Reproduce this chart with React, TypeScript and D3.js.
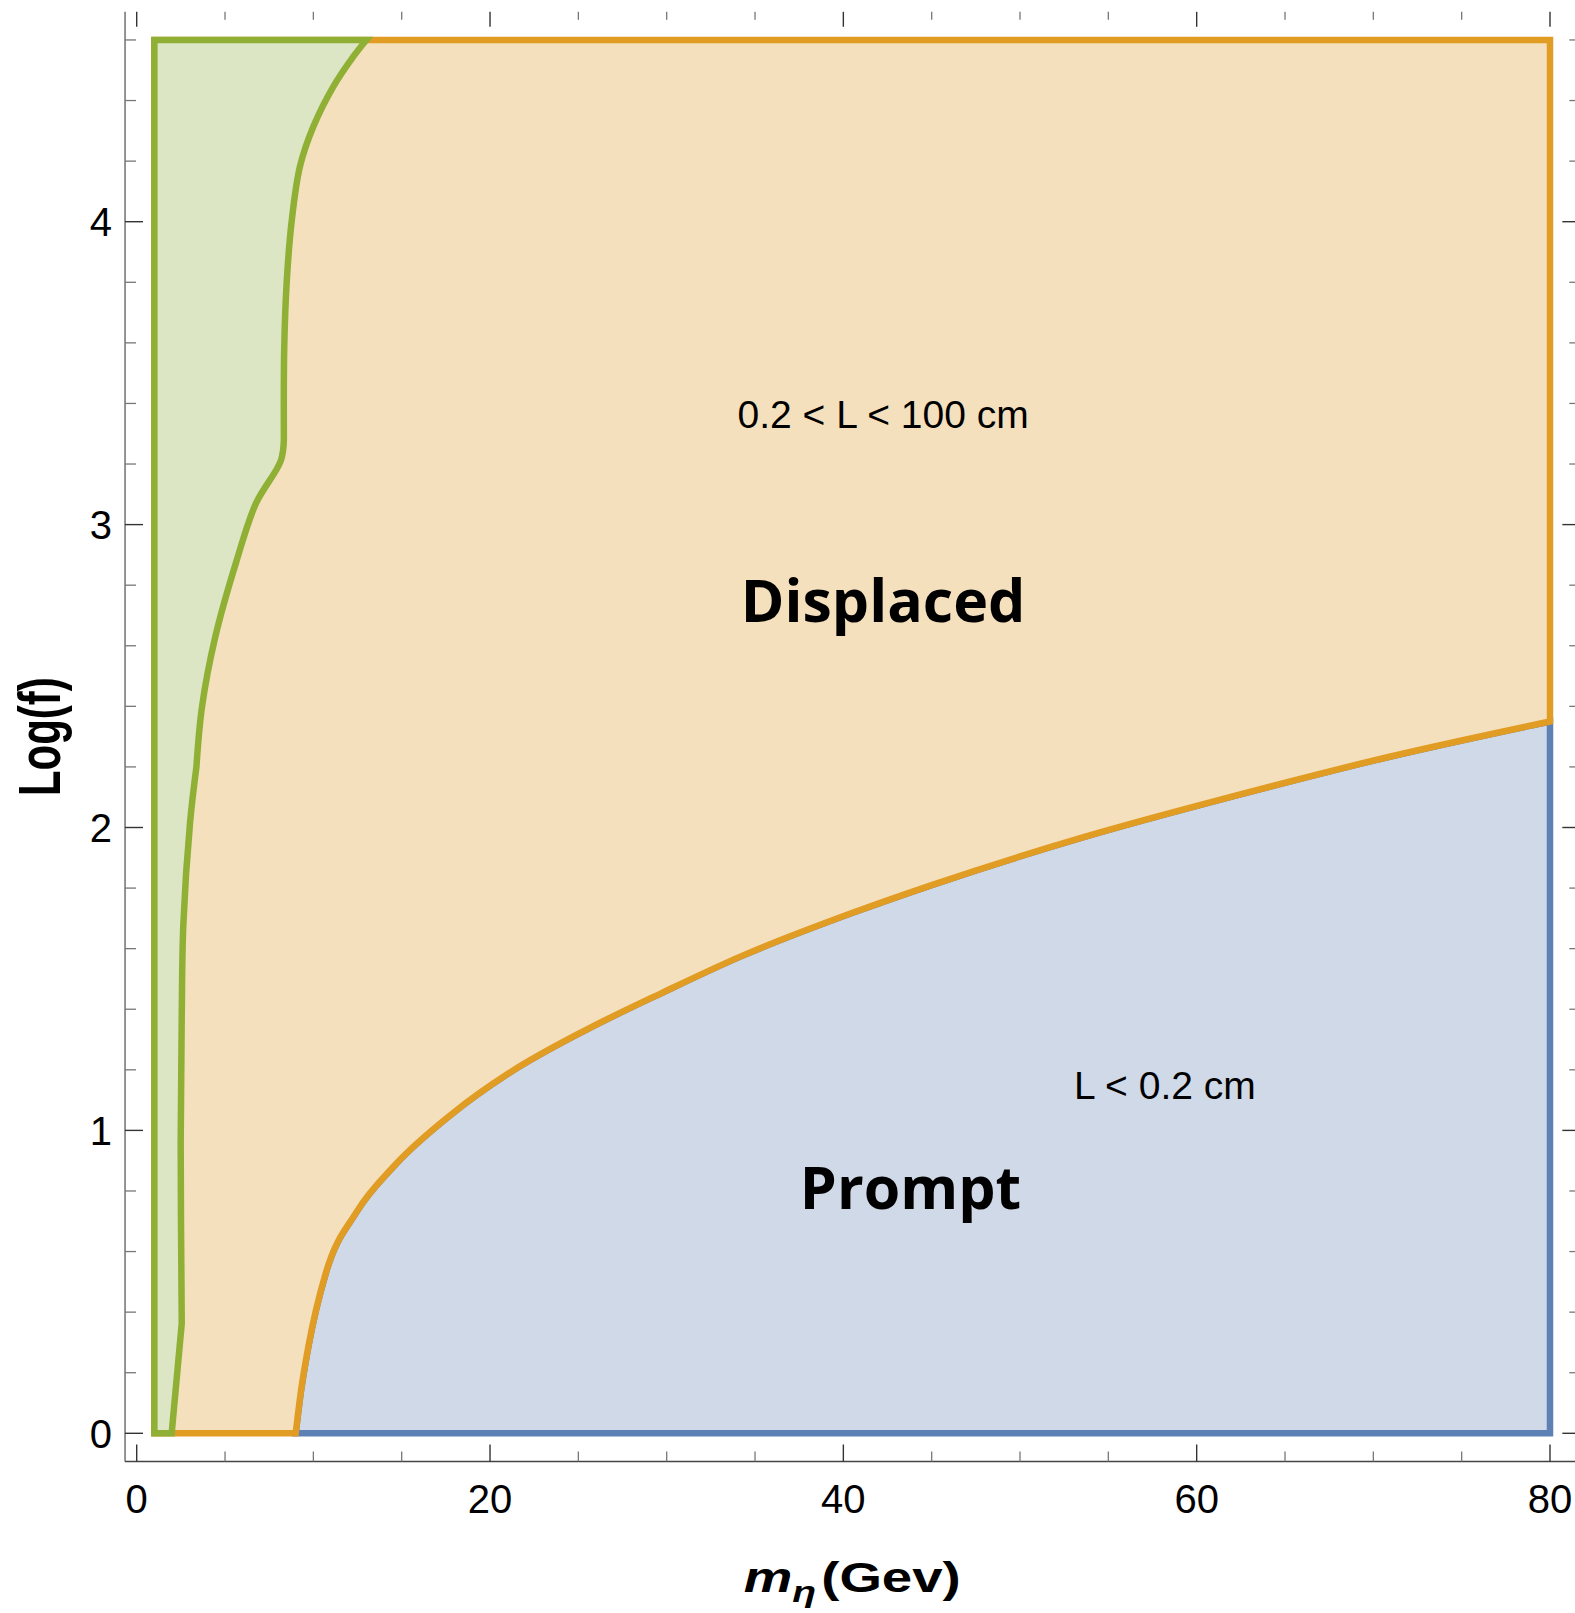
import React from "react";
import * as d3 from "d3";

const W = 1575;
const H = 1613;

// green (long-lived) boundary, read top to bottom: m_eta (GeV), Log(f)
const greenX = [13.0, 12.26, 11.13, 10.0, 9.24, 8.77, 8.49, 8.35, 8.33, 8.15, 6.75, 5.65, 4.45, 3.7, 3.38, 3.02, 2.64, 2.55, 2.49, 2.55, 1.98];
const greenY = [4.6, 4.545, 4.446, 4.314, 4.182, 4.0, 3.8, 3.58, 3.28, 3.21, 3.07, 2.88, 2.63, 2.4, 2.2, 2.016, 1.679, 1.384, 0.963, 0.363, 0];
// indices where the green boundary has a corner
const greenCorners = [0, 8, 14, 19, 20];

// prompt / displaced boundary, left to right
const orangeX = [9.0, 9.3, 9.73, 10.71, 12.44, 14.61, 17.86, 21.1, 25.44, 29.77, 34.1, 40.6, 45, 53.6, 62.2, 70.8, 80];
const orangeY = [0, 0.14, 0.29, 0.53, 0.73, 0.885, 1.055, 1.19, 1.332, 1.455, 1.572, 1.72, 1.81, 1.968, 2.105, 2.232, 2.35];

const xLo = 1;
const xHi = 80;
const yLo = 0;
const yHi = 4.6;

const xMajor = [0, 20, 40, 60, 80];
const xMinor = [5, 10, 15, 25, 30, 35, 45, 50, 55, 65, 70, 75];
const yMajor = [0, 1, 2, 3, 4];
const yMinor = [0.2, 0.4, 0.6, 0.8, 1.2, 1.4, 1.6, 1.8, 2.2, 2.4, 2.6, 2.8, 3.2, 3.4, 3.6, 3.8, 4.2, 4.4, 4.6];

const notes = [
  { text: "0.2 < L < 100 cm", x: 42.25, y: 3.32, big: false },
  { text: "Displaced", x: 42.25, y: 2.68, big: true },
  { text: "L < 0.2 cm", x: 58.2, y: 1.105, big: false },
  { text: "Prompt", x: 43.8, y: 0.742, big: true },
];

const COLORS = {
  greenFill: "#dde6c4",
  greenLine: "#8fb035",
  orangeFill: "#f5e0bd",
  orangeLine: "#e19c24",
  blueFill: "#d0d9e7",
  blueLine: "#5e81b5",
};

const SANS = '"Liberation Sans", Arial, Helvetica, sans-serif';
const COMIC = '"Comic Sans MS", "Open Sans", "DejaVu Sans", sans-serif';

export default function App() {
  const x = d3.scaleLinear().domain([0, 80]).range([136.7, 1550]);
  const y = d3.scaleLinear().domain([0, 4]).range([1433.3, 221.7]);

  // frame = data range with Mathematica-style padding
  const fL = x(-0.66);
  const fR = x(81.66);
  const fB = y(-0.093);
  const fT = y(4.693);

  const green: [number, number][] = greenX.map((v, i) => [v, greenY[i]]);
  const orange: [number, number][] = orangeX.map((v, i) => [v, orangeY[i]]);

  const lin = d3
    .line<[number, number]>()
    .x((d) => x(d[0]))
    .y((d) => y(d[1]));
  const catmull = d3
    .line<[number, number]>()
    .x((d) => x(d[0]))
    .y((d) => y(d[1]))
    .curve(d3.curveCatmullRom.alpha(0.5));
  const mono = d3
    .line<[number, number]>()
    .x((d) => x(d[0]))
    .y((d) => y(d[1]))
    .curve(d3.curveMonotoneX);
  const seg = (g: d3.Line<[number, number]>, pts: [number, number][]) =>
    (g(pts) || "").replace(/^M/, "L");

  const orangeCurve = mono(orange) || "";
  const yEnd = orange[orange.length - 1][1];

  const bluePath = orangeCurve + seg(lin, [[xHi, yEnd], [xHi, yLo]]) + "Z";

  const orangePath =
    `M${x(xLo)},${y(yLo)}` +
    seg(mono, orange) +
    seg(lin, [[xHi, yHi], [xLo, yHi]]) +
    "Z";

  let greenCurve = "";
  for (let k = 0; k < greenCorners.length - 1; k++) {
    const part = green.slice(greenCorners[k], greenCorners[k + 1] + 1);
    greenCurve += seg(part.length > 2 ? catmull : lin, part);
  }
  const greenPath =
    `M${x(xLo)},${y(yHi)}` + greenCurve + seg(lin, [[xLo, yLo]]) + "Z";

  const sw = 6.5;

  return (
    <svg
      width={W}
      height={H}
      style={{ position: "absolute", left: 0, top: 0, background: "#fff" }}
    >
      <path d={bluePath} fill={COLORS.blueFill} stroke={COLORS.blueLine} strokeWidth={sw} />
      <path d={orangePath} fill={COLORS.orangeFill} stroke={COLORS.orangeLine} strokeWidth={sw} />
      <path d={greenPath} fill={COLORS.greenFill} stroke={COLORS.greenLine} strokeWidth={sw} />

      {/* frame: only left and bottom lines are inside the picture */}
      <line x1={fL} x2={fL} y1={fT} y2={fB} stroke="#666" strokeWidth={1.4} />
      <line x1={fL} x2={W} y1={fB} y2={fB} stroke="#444" strokeWidth={1.4} />

      {xMajor.map((v) => (
        <g key={"xM" + v}>
          <line x1={x(v)} x2={x(v)} y1={fB} y2={fB - 17} stroke="#333" strokeWidth={1.4} />
          <line x1={x(v)} x2={x(v)} y1={fT} y2={fT + 15} stroke="#333" strokeWidth={1.4} />
          <text x={x(v)} y={1512.5} textAnchor="middle" fontFamily={SANS} fontSize={40} fill="#000">
            {v}
          </text>
        </g>
      ))}
      {xMinor.map((v) => (
        <g key={"xm" + v}>
          <line x1={x(v)} x2={x(v)} y1={fB} y2={fB - 10} stroke="#777" strokeWidth={1.3} />
          <line x1={x(v)} x2={x(v)} y1={fT} y2={fT + 8} stroke="#777" strokeWidth={1.3} />
        </g>
      ))}
      {yMajor.map((v) => (
        <g key={"yM" + v}>
          <line x1={fL} x2={fL + 18} y1={y(v)} y2={y(v)} stroke="#333" strokeWidth={1.4} />
          <line x1={fR} x2={fR - 17} y1={y(v)} y2={y(v)} stroke="#333" strokeWidth={1.4} />
          <text x={112} y={y(v)} dy="0.36em" textAnchor="end" fontFamily={SANS} fontSize={40} fill="#000">
            {v}
          </text>
        </g>
      ))}
      {yMinor.map((v) => (
        <g key={"ym" + v}>
          <line x1={fL} x2={fL + 11} y1={y(v)} y2={y(v)} stroke="#777" strokeWidth={1.3} />
          <line x1={fR} x2={fR - 10} y1={y(v)} y2={y(v)} stroke="#777" strokeWidth={1.3} />
        </g>
      ))}

      {/* axis titles */}
      <g transform={`translate(${(fL + fR) / 2},1592) scale(1.3,1)`}>
        <text textAnchor="middle" fontFamily={SANS} fontWeight="bold" fontSize={42} fill="#000">
          <tspan fontStyle="italic">m</tspan>
          <tspan fontStyle="italic" fontSize={30} dy={10}>η</tspan>
          <tspan dy={-10} dx={4}>(Gev)</tspan>
        </text>
      </g>
      <g transform={`translate(60,${(fT + fB) / 2}) scale(1.42,1) rotate(-90)`}>
        <text textAnchor="middle" fontFamily={SANS} fontWeight="bold" fontSize={42} fill="#000">
          Log(f)
        </text>
      </g>

      {notes.map((n) => (
        <text
          key={n.text}
          x={x(n.x)}
          y={y(n.y)}
          textAnchor="middle"
          fontFamily={n.big ? COMIC : SANS}
          fontWeight={n.big ? "bold" : "normal"}
          fontSize={n.big ? 59 : 39}
          fill="#000"
        >
          {n.text}
        </text>
      ))}
    </svg>
  );
}
